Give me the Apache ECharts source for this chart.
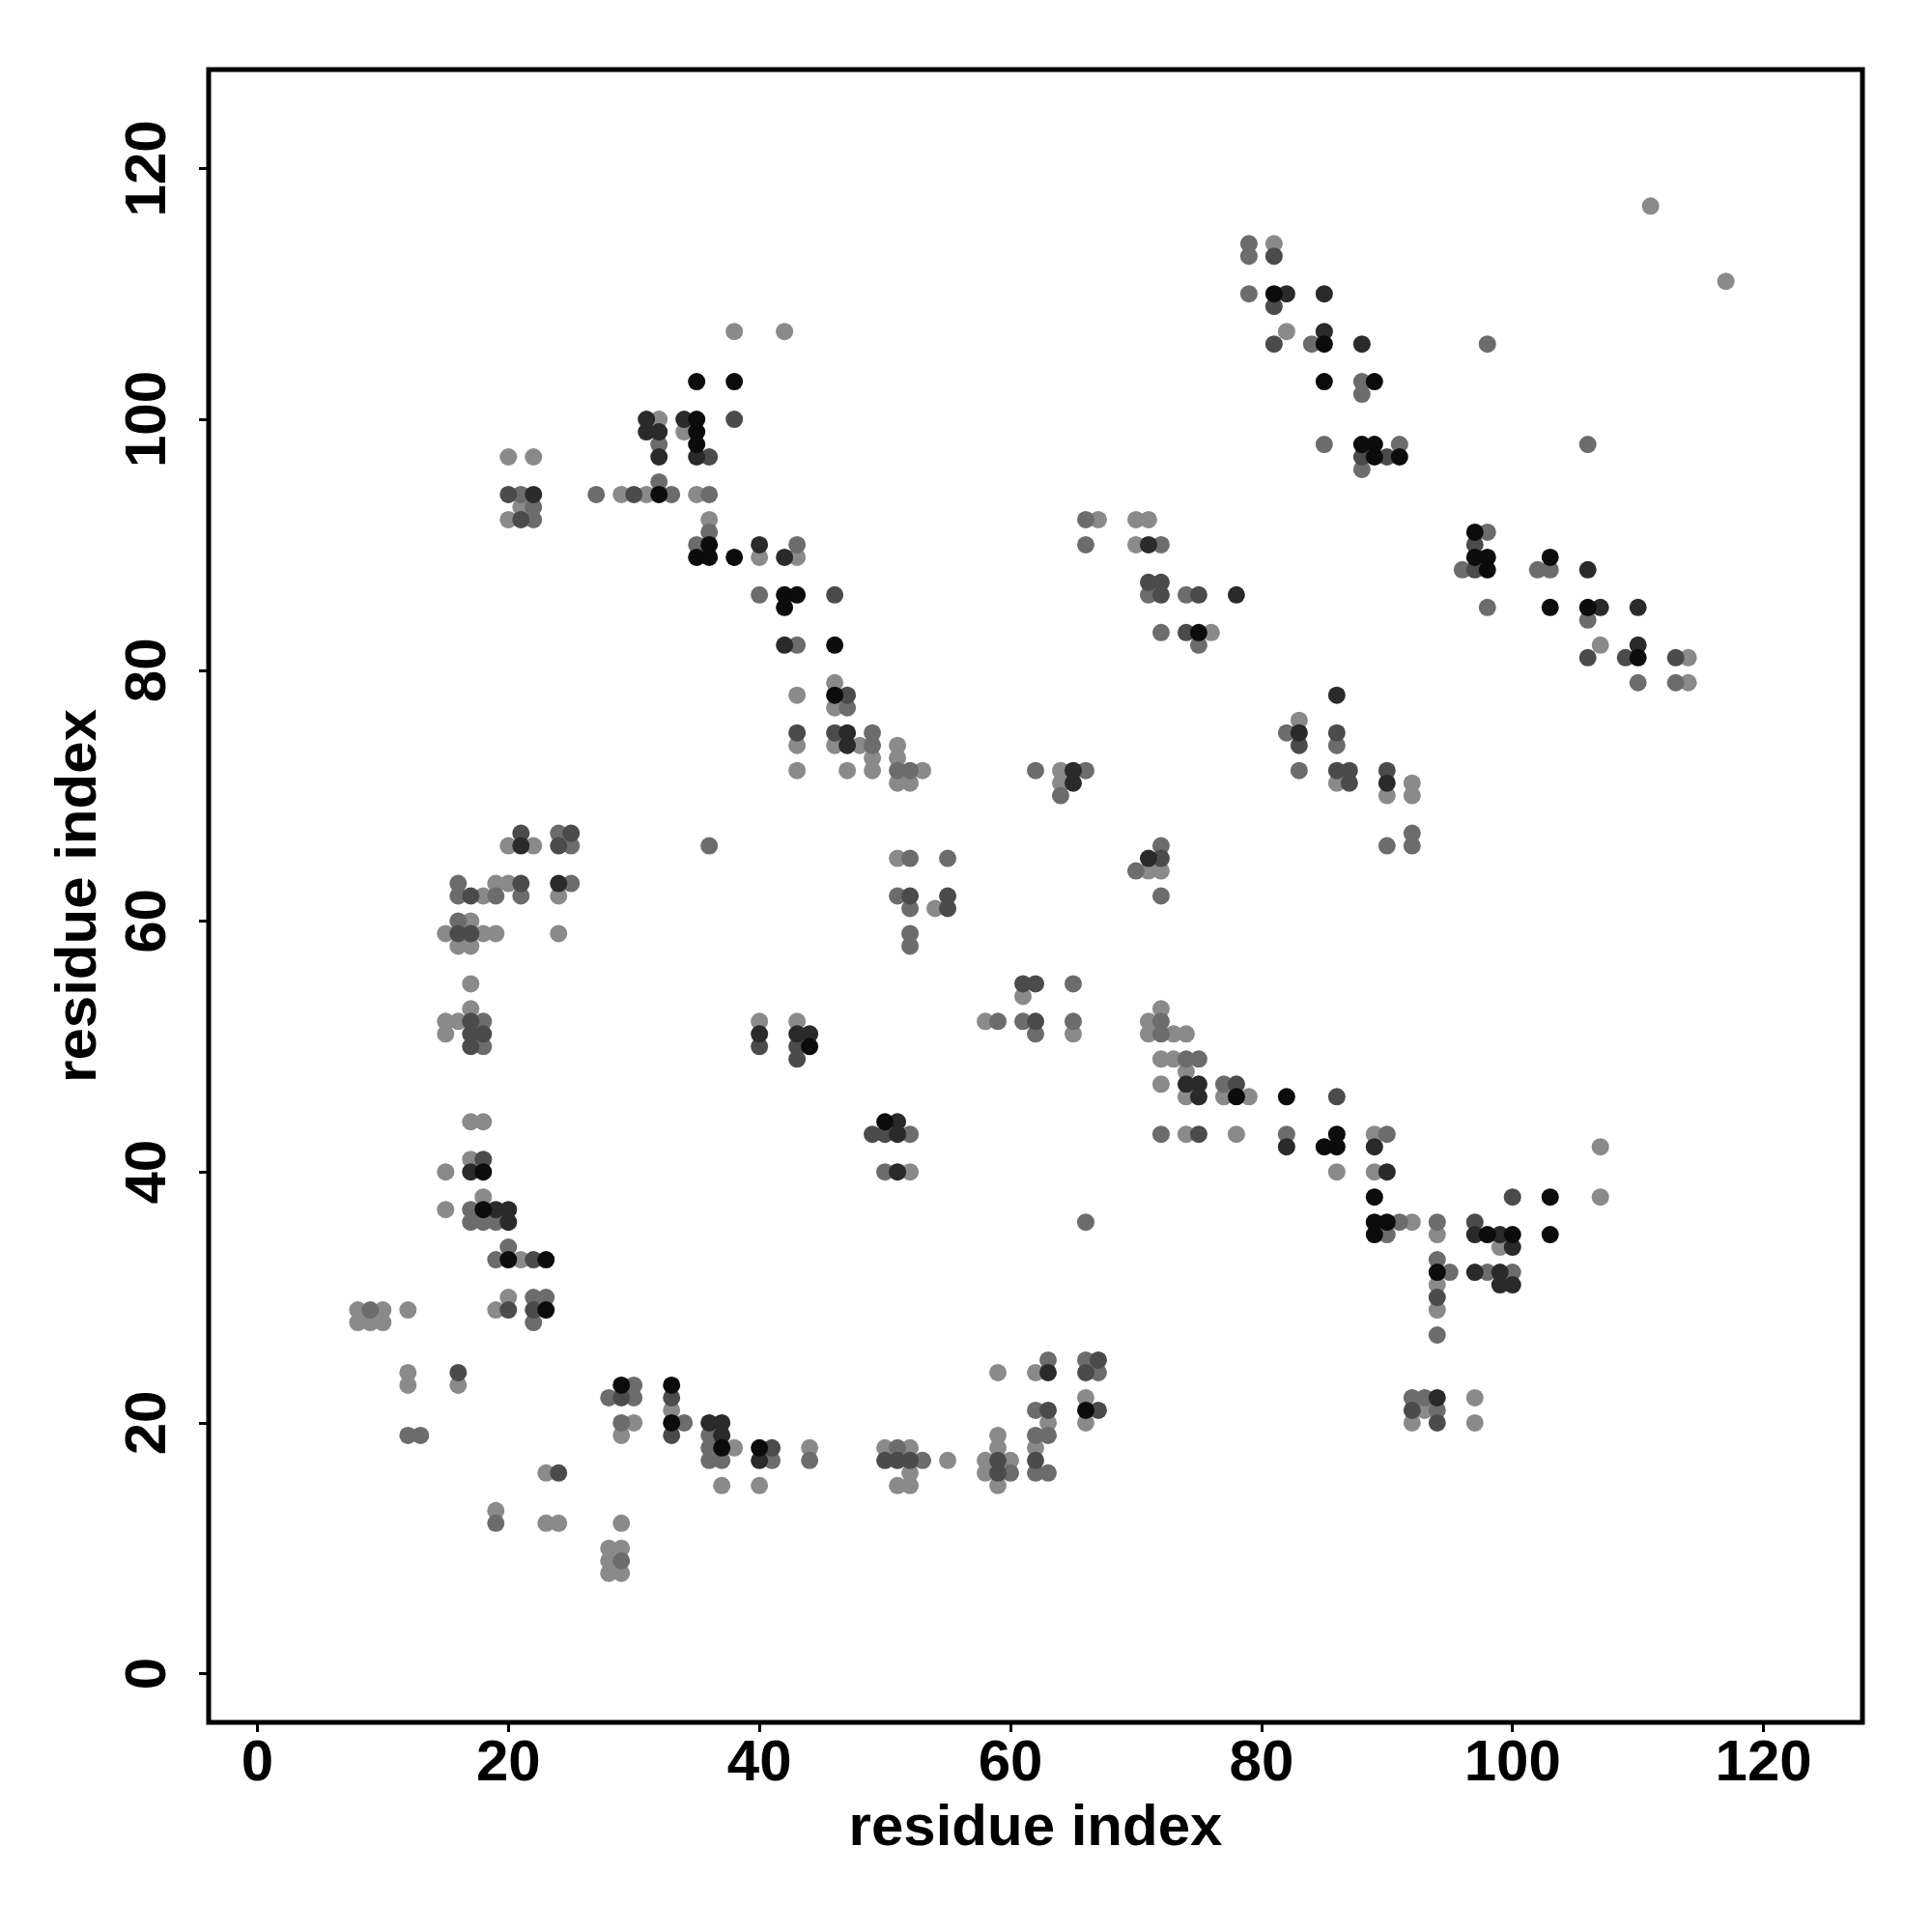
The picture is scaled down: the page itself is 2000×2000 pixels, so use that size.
<!DOCTYPE html>
<html>
<head>
<meta charset="utf-8">
<script src="https://cdn.jsdelivr.net/npm/echarts@6/dist/echarts.min.js"></script>
<style>
html,body{margin:0;padding:0;background:#fff;}
#chart{width:2000px;height:2000px;}
</style>
</head>
<body>
<div id="chart"></div>
<script>
// tick labels
const tickValues = [0, 20, 40, 60, 80, 100, 120];
const axisTitle = 'residue index';

// contacts [residue i, residue j], grouped by shade (light -> black)
const lightContacts = [
[38,107],[42,107],[32,100],[34,99],[20,97],[22,97],[29,94],[31,94],[35,94],[21,93],[20,92],[36,92],
[40,89],[43,89],[81,114],[67,92],[70,92],[71,92],[70,90],[76,83],[111,117],[117,111],[82,107],
[107,82],[114,81],[114,79],[83,76],[86,71],[92,71],[90,70],[92,70],[43,78],[43,74],[43,72],[20,66],
[22,66],[19,63],[20,63],[18,62],[24,62],[17,60],[15,59],[18,59],[19,59],[24,59],[16,58],[17,58],
[17,55],[17,53],[15,52],[16,52],[40,52],[43,52],[15,51],[17,44],[18,44],[17,41],[15,40],[18,38],
[15,37],[21,33],[20,30],[19,29],[8,29],[10,29],[12,29],[8,28],[9,28],[10,28],[12,24],[12,23],[16,23],
[33,21],[30,20],[29,19],[38,18],[44,18],[37,15],[40,15],[23,16],[19,13],[23,12],[24,12],[29,12],
[28,10],[29,10],[28,9],[28,8],[29,8],[52,40],[74,43],[78,43],[59,24],[62,24],[66,22],[63,20],[66,20],
[59,19],[50,18],[52,18],[59,18],[62,18],[55,17],[58,17],[60,17],[52,16],[58,16],[51,15],[52,15],
[59,15],[46,79],[46,77],[46,74],[48,74],[49,73],[47,72],[49,72],[51,74],[51,73],[53,72],[51,71],
[52,71],[64,72],[64,71],[71,64],[72,64],[51,65],[54,61],[61,54],[58,52],[71,52],[72,53],[65,51],
[71,51],[73,51],[74,51],[72,49],[73,49],[74,48],[72,47],[74,46],[77,46],[79,46],[89,43],[107,42],
[86,40],[89,40],[107,38],[92,36],[94,35],[99,34],[94,31],[94,29],[97,22],[93,21],[92,20],[97,20]
];
const midContacts = [
[32,98],[32,95],[21,94],[27,94],[33,94],[36,94],[22,93],[22,92],[36,91],[35,90],[43,90],[40,86],
[43,82],[79,114],[79,113],[79,110],[66,92],[66,90],[72,90],[71,86],[74,86],[72,83],[75,82],[84,106],
[98,106],[88,103],[88,102],[85,98],[91,98],[106,98],[88,96],[98,91],[96,88],[102,88],[103,88],
[98,85],[106,84],[110,79],[113,79],[82,75],[86,74],[83,72],[92,67],[90,66],[92,66],[24,67],[25,66],
[36,66],[16,63],[25,63],[16,62],[19,62],[21,62],[16,60],[18,52],[18,50],[17,37],[17,36],[18,36],
[19,36],[20,34],[19,33],[22,30],[23,30],[9,29],[22,28],[30,23],[28,22],[30,22],[29,20],[34,20],
[36,19],[12,19],[13,19],[36,18],[36,17],[37,17],[41,17],[44,17],[19,12],[29,9],[52,43],[72,43],
[50,40],[66,36],[63,25],[66,25],[67,24],[62,21],[62,19],[63,19],[51,18],[53,17],[60,16],[62,16],
[63,16],[47,77],[49,75],[49,74],[51,72],[52,72],[62,72],[66,72],[64,70],[72,66],[70,64],[72,62],
[52,65],[55,65],[51,62],[52,61],[52,59],[52,58],[65,55],[59,52],[61,52],[65,52],[72,52],[62,51],
[72,51],[74,49],[75,49],[77,47],[82,43],[90,43],[91,36],[94,36],[90,35],[94,33],[95,32],[98,32],
[100,32],[94,27],[92,22],[93,22],[94,21]
];
const darkContacts = [
[38,100],[36,97],[20,94],[30,94],[21,92],[81,113],[81,109],[81,106],[46,86],[71,87],[72,87],
[72,86],[75,86],[74,83],[88,97],[90,97],[97,90],[97,88],[106,81],[109,81],[113,81],[86,75],[83,74],
[86,72],[87,72],[90,72],[87,71],[86,46],[43,75],[21,67],[25,67],[24,66],[21,63],[17,62],[16,59],
[17,59],[17,52],[17,51],[18,51],[17,50],[40,50],[43,50],[43,49],[18,41],[22,33],[20,29],[22,29],
[16,24],[29,22],[33,22],[33,19],[41,18],[24,16],[49,43],[50,43],[75,43],[67,25],[66,24],[63,21],
[67,21],[50,17],[51,17],[52,17],[59,17],[62,17],[59,16],[47,78],[46,75],[72,65],[52,62],[55,62],
[55,61],[61,55],[62,55],[62,52],[78,47],[100,38],[97,36],[94,30],[92,21],[94,20]
];
const vdarkContacts = [
[31,100],[34,100],[31,99],[32,99],[32,97],[35,97],[22,94],[40,90],[42,89],[42,82],[71,90],[78,86],
[82,110],[85,110],[85,107],[88,106],[106,88],[107,85],[110,85],[110,82],[86,78],[83,75],[90,71],
[21,66],[24,63],[40,51],[43,51],[44,51],[17,40],[19,37],[20,37],[20,36],[36,20],[37,20],[37,19],
[40,17],[51,44],[51,43],[51,40],[63,24],[47,75],[47,74],[65,72],[65,71],[71,65],[74,47],[75,47],
[75,46],[82,42],[89,42],[90,40],[97,35],[99,35],[100,34],[97,32],[99,32],[99,31],[100,31],[94,22]
];
const blackContacts = [
[35,103],[38,103],[35,100],[35,99],[35,98],[32,94],[36,90],[35,89],[36,89],[38,89],[42,86],[43,86],
[42,85],[81,110],[46,82],[75,83],[85,106],[85,103],[89,103],[88,98],[89,98],[89,97],[91,97],
[97,91],[97,89],[98,89],[103,89],[98,88],[103,85],[106,85],[110,81],[82,46],[44,50],[18,40],
[18,37],[20,33],[23,33],[23,29],[29,23],[33,23],[33,20],[37,18],[40,18],[50,44],[66,21],[46,78],
[78,46],[86,43],[85,42],[86,42],[89,38],[103,38],[89,36],[90,36],[89,35],[98,35],[100,35],[103,35],
[94,32]
];

const shadeSeries = [
  {name: 'light', data: lightContacts, color: '#8a8a8a'},
  {name: 'mid', data: midContacts, color: '#6c6c6c'},
  {name: 'dark', data: darkContacts, color: '#4b4b4b'},
  {name: 'vdark', data: vdarkContacts, color: '#2a2a2a'},
  {name: 'black', data: blackContacts, color: '#0c0c0c'}
];

const chart = echarts.init(document.getElementById('chart'), null, {renderer: 'canvas'});
const fontFamily = '"Liberation Sans", Arial, Helvetica, sans-serif';

function axisCfg(isY) {
  return {
    type: 'value',
    min: -3.88,
    max: 127.88,
    name: axisTitle,
    nameLocation: 'middle',
    nameGap: isY ? 104 : 80,
    nameTextStyle: {fontSize: 60, fontWeight: 'bold', color: '#000', fontFamily: fontFamily},
    splitLine: {show: false},
    axisLine: {show: false, onZero: false},
    axisTick: {show: true, inside: false, length: 10, customValues: tickValues,
               lineStyle: {color: '#000', width: 3}},
    axisLabel: {show: true, customValues: tickValues, fontSize: 60, fontWeight: 'bold',
                color: '#000', fontFamily: fontFamily, margin: isY ? 32 : 13,
                rotate: isY ? 90 : 0}
  };
}

chart.setOption({
  animation: false,
  backgroundColor: '#fff',
  grid: {left: 216, right: 72, top: 72, bottom: 217, show: true,
         borderColor: '#000', borderWidth: 5, backgroundColor: 'transparent'},
  xAxis: axisCfg(false),
  yAxis: axisCfg(true),
  series: shadeSeries.map(s => ({
    type: 'scatter',
    name: s.name,
    data: s.data,
    symbol: 'circle',
    symbolSize: 18,
    itemStyle: {color: s.color, opacity: 1},
    emphasis: {disabled: true}
  }))
});
</script>
</body>
</html>
